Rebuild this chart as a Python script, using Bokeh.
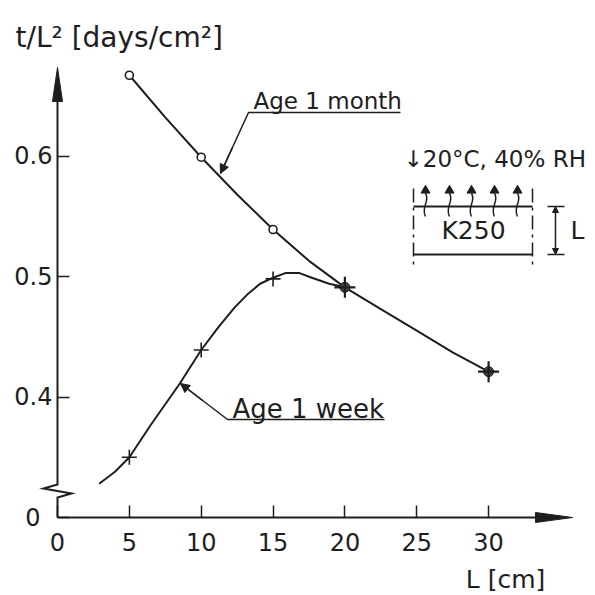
from bokeh.plotting import figure
from bokeh.models import Range1d, FixedTicker, Label, Arrow, NormalHead
from bokeh.embed import file_html
from bokeh.resources import INLINE

# ---------------- data ----------------
L_ticks = [0, 5, 10, 15, 20, 25, 30]
t_ticks = [0.3, 0.4, 0.5, 0.6]
t_tick_labels = {0.3: "0\u2002", 0.4: "0.4", 0.5: "0.5", 0.6: "0.6"}

month_L = [5, 10, 15, 20, 30]
month_t = [0.667, 0.599, 0.539, 0.491, 0.421]
week_L = [5, 10, 15, 20, 30]
week_t = [0.350, 0.439, 0.498, 0.491, 0.421]

# traced fitted curves
month_curve_L = [5, 7.5, 10, 12.5, 15, 17.5, 20, 22.5, 25, 27.5, 30]
month_curve_t = [0.667, 0.632, 0.599, 0.568, 0.539, 0.513, 0.491, 0.473, 0.455, 0.437, 0.421]
week_curve_L = [2.9, 4, 5, 6.5, 8.5, 10, 11.2, 12.3, 13.2, 14.1, 15, 15.9, 16.8, 17.7, 18.9, 20]
week_curve_t = [0.328, 0.338, 0.350, 0.377, 0.411, 0.439, 0.458, 0.474, 0.485, 0.494,
                0.499, 0.503, 0.503, 0.499, 0.494, 0.491]

# ---------------- figure ----------------
INK = "#1e1e1e"
FONT = "DejaVu Sans"
W = H = 595
X0_PX, Y0_PX = 57, 517      # pixel position of the axes' origin
PX_X = 14.37                # px per cm
PX_Y = 1205.0               # px per unit of t/L^2 (axis starts at 0.3, shown as broken 0)
T0 = 0.3

p = figure(width=W, height=H, output_backend="svg", toolbar_location=None,
           x_range=Range1d(-X0_PX / PX_X, (W - X0_PX) / PX_X),
           y_range=Range1d(T0 - (H - Y0_PX) / PX_Y, T0 + Y0_PX / PX_Y),
           min_border=0, min_border_left=0, min_border_right=0,
           min_border_top=0, min_border_bottom=0)
p.outline_line_color = None
p.xgrid.visible = False
p.ygrid.visible = False
p.background_fill_color = "white"
p.border_fill_color = "white"

for ax in (p.xaxis[0], p.yaxis[0]):
    ax.axis_line_color = None
    ax.major_tick_in = 12
    ax.major_tick_out = 0
    ax.major_tick_line_color = INK
    ax.major_tick_line_width = 1.5
    ax.minor_tick_line_color = None
    ax.major_label_text_font = FONT
    ax.major_label_text_font_size = "24px"
    ax.major_label_text_color = INK

p.xaxis.ticker = FixedTicker(ticks=L_ticks)
p.xaxis.fixed_location = T0
p.xaxis.major_label_standoff = 15
p.yaxis.ticker = FixedTicker(ticks=t_ticks)
p.yaxis.fixed_location = 0
p.yaxis.major_label_overrides = t_tick_labels
p.yaxis.major_label_standoff = 5


def px(xp):
    return (xp - X0_PX) / PX_X


def py(yp):
    return T0 + (Y0_PX - yp) / PX_Y


dx = 1 / PX_X
dy = 1 / PX_Y
x_tip = px(572)
y_tip = py(67)

# axis lines with arrows and the break on the t axis
p.line([0, x_tip - 20 * dx], [T0, T0], line_color=INK, line_width=2)
p.line([0, 0, -14 * dx, 14 * dx, 0, 0],
       [y_tip - 20 * dy, T0 + 33 * dy, T0 + 29 * dy, T0 + 24 * dy, T0 + 20 * dy, T0],
       line_color=INK, line_width=2, line_join="miter")
p.patch([x_tip, x_tip - 37 * dx, x_tip - 37 * dx], [T0, T0 + 5 * dy, T0 - 5 * dy],
        fill_color=INK, line_color=INK, line_width=1)
p.patch([0, -5 * dx, 5 * dx], [y_tip, y_tip - 34 * dy, y_tip - 34 * dy],
        fill_color=INK, line_color=INK, line_width=1)

# ---------------- curves and points ----------------
p.line(month_curve_L, month_curve_t, line_color=INK, line_width=2)
p.line(week_curve_L, week_curve_t, line_color=INK, line_width=2)

same = [abs(m - w) < 1e-9 for m, w in zip(month_t, week_t)]
both_L = [l for l, s in zip(month_L, same) if s]
both_t = [m for m, s in zip(month_t, same) if s]
mo_L = [l for l, s in zip(month_L, same) if not s]
mo_t = [m for m, s in zip(month_t, same) if not s]
wk_L = [l for l, s in zip(week_L, same) if not s]
wk_t = [w for w, s in zip(week_t, same) if not s]

p.scatter(mo_L, mo_t, marker="circle", size=8, fill_color="white", line_color=INK, line_width=1.6)
p.scatter(wk_L, wk_t, marker="cross", size=15, line_color=INK, line_width=1.6)
p.scatter(both_L, both_t, marker="circle", size=10, fill_color="#444444", line_color=INK, line_width=1)
p.scatter(both_L, both_t, marker="cross", size=21, line_color=INK, line_width=2.2)

# ---------------- annotations ----------------
# Age 1 month
p.add_layout(Label(x=px(253), y=py(100), text="Age 1 month", text_font=FONT,
                   text_font_size="23px", text_color=INK, text_baseline="middle"))
p.line([px(220), px(248), px(400)], [py(173), py(112), py(112)], line_color=INK, line_width=1.5)
p.add_layout(Arrow(end=NormalHead(size=9, fill_color=INK, line_color=INK), line_color=INK,
                   line_width=1.5, x_start=px(232), y_start=py(147), x_end=px(220), y_end=py(173)))

# Age 1 week
p.add_layout(Label(x=px(232), y=py(408), text="Age 1 week", text_font=FONT,
                   text_font_size="26px", text_color=INK, text_baseline="middle"))
p.line([px(180), px(227), px(384)], [py(383), py(419), py(419)], line_color=INK, line_width=1.5)
p.add_layout(Arrow(end=NormalHead(size=9, fill_color=INK, line_color=INK), line_color=INK,
                   line_width=1.5, x_start=px(202), y_start=py(400), x_end=px(180), y_end=py(383)))

# axis titles
p.add_layout(Label(x=px(15), y=py(37), text="t/L\u00b2 [days/cm\u00b2]", text_font=FONT,
                   text_font_size="28px", text_color=INK, text_baseline="middle"))
p.add_layout(Label(x=px(505), y=py(579), text="L [cm]", text_font=FONT, text_align="center",
                   text_font_size="25px", text_color=INK, text_baseline="middle"))

# inset sketch
p.add_layout(Label(x=px(403), y=py(158), text="\u219320\u00b0C, 40% RH", text_font=FONT,
                   text_font_size="23px", text_color=INK, text_baseline="middle"))
p.line([px(413), px(532)], [py(206), py(206)], line_color=INK, line_width=1.8)
p.line([px(413), px(532)], [py(254), py(254)], line_color=INK, line_width=1.8)
p.segment(x0=[px(413), px(532)], y0=[py(188), py(188)], x1=[px(413), px(532)], y1=[py(268), py(268)],
          line_color=INK, line_width=1.5, line_dash="14 5 3 5")
p.add_layout(Label(x=px(473), y=py(230), text="K250", text_font=FONT, text_align="center",
                   text_font_size="25px", text_color=INK, text_baseline="middle"))
ax_ = [px(v) for v in (425, 449, 471, 494, 517)]
p.bezier(x0=ax_, y0=[py(216)] * 5, x1=ax_, y1=[py(193)] * 5,
         cx0=[v - 5 * dx for v in ax_], cy0=[py(207)] * 5,
         cx1=[v + 5 * dx for v in ax_], cy1=[py(200)] * 5, line_color=INK, line_width=1.5)
p.scatter(ax_, [py(190)] * 5, marker="triangle", size=9, fill_color=INK, line_color=INK)
p.add_layout(Arrow(start=NormalHead(size=6, fill_color=INK, line_color=INK),
                   end=NormalHead(size=6, fill_color=INK, line_color=INK),
                   line_color=INK, line_width=1.5,
                   x_start=px(555), y_start=py(206), x_end=px(555), y_end=py(254)))
p.segment(x0=[px(547), px(547)], y0=[py(206), py(254)], x1=[px(564), px(564)], y1=[py(206), py(254)],
          line_color=INK, line_width=1.5)
p.add_layout(Label(x=px(570), y=py(230), text="L", text_font=FONT,
                   text_font_size="25px", text_color=INK, text_baseline="middle"))

open("out.html", "w").write(file_html(p, INLINE))
